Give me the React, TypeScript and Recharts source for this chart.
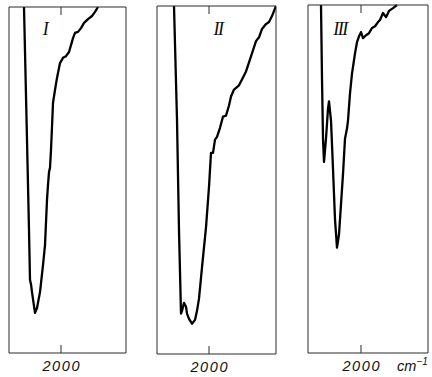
import React from 'react';
import { LineChart, Line, XAxis, YAxis } from 'recharts';

// Wavenumber (cm^-1) and transmittance (%)
const tickValues = [2000];
const panelNames = ['I', 'II', 'III'];

const waveI = [2074, 2068, 2064, 2062, 2060, 2058, 2052, 2048, 2042, 2036, 2032, 2028, 2026, 2024, 2022, 2020, 2018, 2016, 2012, 2008, 2002, 1996, 1990, 1984, 1980, 1976, 1972, 1966, 1960, 1954, 1946, 1938, 1932, 1926];
const transI = [100, 61.6, 35.5, 21.1, 19.9, 17.6, 11.6, 13.0, 17.6, 25.4, 31.2, 44.2, 48.6, 52.3, 53.5, 58.7, 65.3, 72.3, 76.0, 79.5, 83.8, 85.3, 85.8, 87.0, 89.0, 91.0, 92.5, 92.8, 93.9, 95.4, 96.5, 97.4, 98.6, 100];

const waveII = [2070, 2064, 2060, 2056, 2054, 2050, 2046, 2044, 2040, 2034, 2028, 2024, 2020, 2014, 2006, 2000, 1996, 1992, 1988, 1984, 1978, 1972, 1966, 1960, 1956, 1950, 1940, 1934, 1926, 1916, 1906, 1900, 1894, 1886, 1880, 1874, 1866];
const transII = [100, 67.3, 35.5, 11.6, 12.4, 14.7, 13.6, 11.6, 10.1, 8.7, 9.8, 12.4, 15.9, 24.9, 36.4, 48.0, 57.8, 57.8, 61.6, 62.4, 65.0, 68.2, 68.5, 71.4, 74.0, 76.0, 77.2, 78.9, 81.2, 85.5, 89.9, 91.0, 93.4, 94.8, 95.4, 97.1, 100];

const waveIII = [2080, 2078, 2076, 2074, 2070, 2066, 2064, 2060, 2056, 2052, 2048, 2044, 2040, 2036, 2032, 2028, 2026, 2022, 2018, 2012, 2008, 2004, 2000, 1996, 1990, 1984, 1978, 1972, 1966, 1962, 1956, 1950, 1944, 1936, 1928];
const transIII = [100, 78.9, 61.6, 54.9, 61.6, 70.2, 72.3, 66.8, 52.9, 38.4, 30.3, 34.1, 42.8, 51.4, 61.6, 64.5, 66.8, 74.6, 80.3, 86.1, 89.3, 91.0, 92.2, 90.5, 91.3, 91.9, 93.4, 93.9, 95.1, 95.7, 97.7, 96.5, 98.3, 99.1, 100];

const build = (w: number[], t: number[]) => w.map((x, i) => ({ x, y: t[i] }));

const FRAME = '#2a2a2a';
const sansFont = '"Liberation Sans", Arial, sans-serif';
const serifFont = '"Liberation Serif", "Times New Roman", serif';

const BottomTick = (props: any) => {
  const { x, y, payload, showUnit } = props;
  return (
    <g>
      <line x1={x} y1={y} x2={x} y2={y - 8} stroke={FRAME} strokeWidth={1} />
      <text x={x + 0.8} y={y + 18} textAnchor="middle" fontFamily={sansFont} fontStyle="italic" fontSize={14.5} letterSpacing={1.6} fill="#111">
        {payload.value}
      </text>
      {showUnit ? (
        <text x={x + 36} y={y + 18} fontFamily={sansFont} fontStyle="italic" fontSize={14.5} fill="#111">
          cm
          <tspan fontSize={10} dy={-6}>−1</tspan>
        </text>
      ) : null}
    </g>
  );
};

const TopTick = (props: any) => {
  const { x, y } = props;
  return <line x1={x} y1={y} x2={x} y2={y + 8} stroke={FRAME} strokeWidth={1} />;
};

type PanelProps = {
  left: number;
  width: number;
  plot: { top: number; right: number; bottom: number; left: number };
  domain: [number, number];
  data: { x: number; y: number }[];
  name: string;
  nameX: number;
  showUnit?: boolean;
};

const Panel = ({ left, width, plot, domain, data, name, nameX, showUnit }: PanelProps) => {
  // plot = distances of the frame from the chart edges
  const margin = { top: plot.top - 1, right: plot.right - 1, bottom: 0, left: plot.left - 1 };
  return (
    <div style={{ position: 'absolute', left, top: 0 }}>
      <LineChart width={width} height={377} data={data} margin={margin}>
        <XAxis
          xAxisId="b"
          dataKey="x"
          type="number"
          domain={domain}
          reversed
          allowDataOverflow
          ticks={tickValues}
          interval={0}
          orientation="bottom"
          height={plot.bottom}
          tickSize={0}
          tickMargin={0}
          tickLine={false}
          axisLine={{ stroke: FRAME, strokeWidth: 1 }}
          tick={(p: any) => <BottomTick {...p} showUnit={showUnit} />}
        />
        <XAxis
          xAxisId="t"
          dataKey="x"
          type="number"
          domain={domain}
          reversed
          allowDataOverflow
          ticks={tickValues}
          interval={0}
          orientation="top"
          height={1}
          tickSize={0}
          tickMargin={0}
          tickLine={false}
          axisLine={{ stroke: FRAME, strokeWidth: 1 }}
          tick={(p: any) => <TopTick {...p} />}
        />
        <YAxis yAxisId="l" type="number" domain={[0, 100]} width={1} tick={false} tickLine={false} axisLine={{ stroke: FRAME, strokeWidth: 1 }} />
        <YAxis yAxisId="r" orientation="right" type="number" domain={[0, 100]} width={1} tick={false} tickLine={false} axisLine={{ stroke: FRAME, strokeWidth: 1 }} />
        <Line
          xAxisId="b"
          yAxisId="l"
          type="linear"
          dataKey="y"
          stroke="#000"
          strokeWidth={2.3}
          dot={false}
          isAnimationActive={false}
          strokeLinejoin="round"
        />
        <text x={nameX} y={35} textAnchor="middle" fontFamily={serifFont} fontStyle="italic" fontSize={18} letterSpacing={-1.5} fill="#111">
          {name}
        </text>
      </LineChart>
    </div>
  );
};

export default function App() {
  return (
    <div style={{ position: 'absolute', left: 0, top: 0, width: 432, height: 377, background: '#fff', overflow: 'hidden' }}>
      <Panel
        left={0}
        width={142}
        plot={{ top: 7, right: 16, bottom: 24, left: 9 }}
        domain={[1870, 2104]}
        data={build(waveI, transI)}
        name={panelNames[0]}
        nameX={45}
      />
      <Panel
        left={142}
        width={150}
        plot={{ top: 6, right: 16, bottom: 23, left: 15 }}
        domain={[1866, 2104]}
        data={build(waveII, transII)}
        name={panelNames[1]}
        nameX={76}
      />
      <Panel
        left={292}
        width={140}
        plot={{ top: 5, right: 4, bottom: 24, left: 16 }}
        domain={[1866, 2106]}
        data={build(waveIII, transIII)}
        name={panelNames[2]}
        nameX={48}
        showUnit
      />
    </div>
  );
}
